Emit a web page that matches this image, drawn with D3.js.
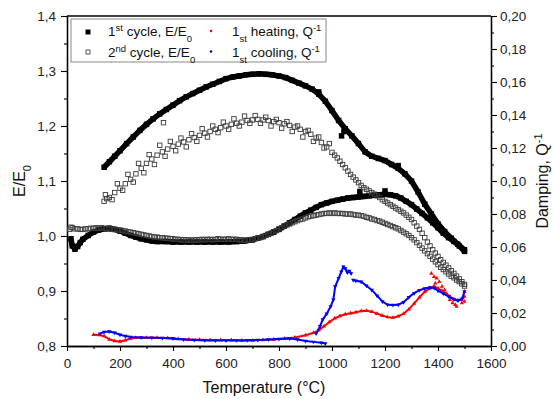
<!DOCTYPE html>
<html><head><meta charset="utf-8">
<script src="https://cdn.jsdelivr.net/npm/d3@7"></script>
<style>
body{margin:0;background:#fff;}
svg{font-family:Arial,"Liberation Sans",sans-serif;}
</style></head>
<body><svg id="c" width="553" height="399"></svg>
<script>
// ---------- data ----------
const xTicks = [0,200,400,600,800,1000,1200,1400,1600];
const yLeftTicks = [0.8,0.9,1.0,1.1,1.2,1.3,1.4];
const yRightTicks = [0,0.02,0.04,0.06,0.08,0.10,0.12,0.14,0.16,0.18,0.20];

// 1st cycle E/E0, heating branch (lower black)
const cycle1Heat = [[15,0.995],[20,0.982],[30,0.976],[40,0.981],[50,0.988],[60,0.994],[80,1.001],[100,1.007],[120,1.011],[140,1.013],[160,1.014],[180,1.012],[200,1.009],[220,1.005],[240,1.001],[260,0.998],[280,0.995],[300,0.993],[320,0.991],[340,0.990],[370,0.990],[400,0.989],[430,0.989],[460,0.989],[490,0.989],[520,0.989],[550,0.989],[580,0.989],[610,0.989],[640,0.990],[670,0.991],[700,0.993],[720,0.996],[740,0.999],[760,1.003],[780,1.007],[800,1.012],[820,1.018],[840,1.024],[860,1.030],[880,1.036],[900,1.042],[920,1.047],[940,1.052],[960,1.057],[980,1.060],[1000,1.063],[1020,1.065],[1040,1.067],[1060,1.069],[1080,1.070],[1100,1.071],[1120,1.072],[1140,1.073],[1160,1.074],[1180,1.075],[1200,1.076],[1220,1.075],[1240,1.073],[1260,1.069],[1280,1.063],[1300,1.057],[1320,1.049],[1340,1.041],[1360,1.033],[1380,1.024],[1400,1.015],[1420,1.005],[1440,0.997],[1460,0.990],[1480,0.982],[1500,0.972]];
// 1st cycle E/E0, cooling branch (upper black)
const cycle1Cool = [[1500,0.975],[1475,0.985],[1450,0.996],[1425,1.008],[1400,1.022],[1375,1.040],[1350,1.058],[1325,1.080],[1300,1.100],[1275,1.113],[1250,1.123],[1225,1.130],[1200,1.137],[1175,1.141],[1150,1.145],[1125,1.153],[1100,1.168],[1075,1.182],[1050,1.195],[1025,1.210],[1000,1.228],[975,1.245],[950,1.258],[925,1.267],[900,1.273],[875,1.278],[850,1.283],[825,1.288],[800,1.291],[775,1.293],[750,1.294],[725,1.295],[700,1.294],[675,1.293],[650,1.291],[625,1.289],[600,1.286],[575,1.281],[550,1.276],[525,1.271],[500,1.265],[475,1.259],[450,1.253],[425,1.246],[400,1.238],[375,1.230],[350,1.222],[325,1.213],[300,1.203],[275,1.192],[250,1.180],[225,1.168],[200,1.155],[180,1.145],[160,1.135],[140,1.125]];
const cycle1Outliers = [[1036,1.182],[1045,1.19],[1105,1.081],[1200,1.082],[950,1.262],[1250,1.128]];
// 2nd cycle E/E0, heating branch (lower open)
const cycle2Heat = [[10,1.012],[15,1.016],[20,1.015],[30,1.013],[40,1.013],[50,1.012],[60,1.012],[70,1.013],[80,1.013],[90,1.014],[100,1.014],[110,1.015],[120,1.014],[130,1.015],[140,1.014],[150,1.013],[160,1.013],[170,1.012],[180,1.012],[190,1.011],[200,1.011],[210,1.010],[220,1.009],[230,1.008],[240,1.007],[250,1.006],[260,1.005],[270,1.004],[280,1.003],[290,1.002],[300,1.001],[310,1.000],[320,0.999],[330,0.998],[340,0.998],[350,0.997],[360,0.997],[370,0.996],[380,0.996],[390,0.995],[400,0.995],[410,0.994],[420,0.994],[430,0.993],[440,0.993],[450,0.993],[460,0.993],[470,0.992],[480,0.993],[490,0.993],[500,0.993],[510,0.994],[520,0.993],[530,0.994],[540,0.994],[550,0.993],[560,0.994],[570,0.995],[580,0.994],[590,0.994],[600,0.994],[610,0.995],[620,0.994],[630,0.994],[640,0.994],[650,0.993],[660,0.993],[670,0.992],[680,0.993],[690,0.993],[700,0.994],[710,0.995],[720,0.996],[730,0.997],[740,0.999],[750,1.001],[760,1.003],[770,1.005],[780,1.008],[790,1.010],[800,1.013],[810,1.015],[820,1.018],[830,1.020],[840,1.022],[850,1.024],[860,1.026],[870,1.028],[880,1.030],[890,1.031],[900,1.033],[910,1.035],[920,1.036],[930,1.037],[940,1.038],[950,1.039],[960,1.040],[970,1.041],[980,1.041],[990,1.042],[1000,1.041],[1010,1.042],[1020,1.041],[1030,1.041],[1040,1.041],[1050,1.040],[1060,1.040],[1070,1.040],[1080,1.039],[1090,1.038],[1100,1.038],[1110,1.037],[1120,1.036],[1130,1.034],[1140,1.033],[1150,1.031],[1160,1.030],[1170,1.028],[1180,1.027],[1190,1.025],[1200,1.023],[1210,1.021],[1220,1.019],[1230,1.017],[1240,1.015],[1250,1.013],[1260,1.010],[1270,1.007],[1280,1.004],[1290,1.001],[1300,0.997],[1310,0.993],[1320,0.988],[1330,0.983],[1340,0.978],[1350,0.973],[1360,0.968],[1370,0.963],[1380,0.958],[1390,0.953],[1400,0.948],[1410,0.943],[1420,0.939],[1430,0.935],[1440,0.931],[1450,0.927],[1460,0.924],[1470,0.920],[1480,0.917],[1490,0.913],[1500,0.909]];
// 2nd cycle E/E0, cooling branch (upper open, noisy)
const cycle2Cool = [[1500,0.912],[1490,0.917],[1480,0.922],[1470,0.927],[1460,0.932],[1450,0.937],[1440,0.942],[1430,0.947],[1420,0.952],[1410,0.957],[1400,0.963],[1390,0.969],[1380,0.975],[1370,0.982],[1360,0.989],[1350,0.997],[1340,1.005],[1330,1.012],[1320,1.018],[1310,1.024],[1300,1.030],[1290,1.034],[1280,1.038],[1270,1.042],[1260,1.045],[1250,1.048],[1240,1.051],[1230,1.054],[1220,1.057],[1210,1.060],[1200,1.063],[1190,1.066],[1180,1.070],[1170,1.073],[1160,1.076],[1150,1.079],[1140,1.082],[1130,1.085],[1120,1.088],[1110,1.092],[1100,1.097],[1090,1.102],[1080,1.107],[1070,1.112],[1060,1.118],[1050,1.124],[1040,1.130],[1030,1.136],[1020,1.142],[1010,1.147],[1000,1.152],[980,1.162],[960,1.170],[940,1.178],[920,1.185],[900,1.190],[880,1.194],[860,1.198],[840,1.201],[820,1.204],[800,1.206],[780,1.208],[760,1.210],[740,1.211],[720,1.212],[700,1.211],[680,1.210],[660,1.207],[640,1.205],[620,1.203],[600,1.200],[580,1.197],[560,1.194],[540,1.190],[520,1.187],[500,1.183],[480,1.179],[460,1.175],[440,1.171],[420,1.167],[400,1.163],[380,1.158],[360,1.153],[340,1.147],[320,1.140],[300,1.132],[280,1.123],[260,1.113],[240,1.103],[220,1.095],[200,1.087],[180,1.079],[160,1.070],[140,1.063]];
const cycle2CoolScatter = [[145,1.075],[150,1.068],[170,1.066],[190,1.095],[210,1.083],[230,1.112],[250,1.098],[270,1.132],[290,1.115],[310,1.148],[330,1.130],[350,1.165],[364,1.206],[370,1.145],[390,1.172],[410,1.155],[430,1.178],[450,1.162],[470,1.186],[490,1.172],[510,1.195],[530,1.180],[550,1.200],[570,1.188],[590,1.207],[610,1.194],[630,1.213],[650,1.200],[670,1.218],[690,1.205],[710,1.219],[730,1.205],[750,1.216],[770,1.200],[790,1.212],[810,1.196],[830,1.208],[850,1.190],[870,1.200],[890,1.180],[910,1.192],[930,1.172],[950,1.180],[970,1.160],[990,1.168]];
// Damping Q^-1, 1st heating (red)
const heatQ = [[100,0.0068],[120,0.0066],[140,0.0060],[160,0.0040],[180,0.0030],[200,0.0027],[220,0.0035],[240,0.0045],[260,0.0050],[300,0.0050],[340,0.0050],[380,0.0048],[420,0.0042],[460,0.0040],[500,0.0038],[540,0.0036],[580,0.0036],[620,0.0036],[660,0.0034],[700,0.0034],[740,0.0036],[780,0.0040],[820,0.0046],[860,0.0052],[900,0.0065],[930,0.0080],[950,0.0095],[970,0.0120],[990,0.0145],[1010,0.0168],[1030,0.0182],[1050,0.0192],[1070,0.0198],[1090,0.0204],[1110,0.0212],[1130,0.0214],[1150,0.0208],[1170,0.0196],[1190,0.0184],[1210,0.0175],[1230,0.0172],[1250,0.0180],[1270,0.0196],[1290,0.0222],[1310,0.0258],[1330,0.0295],[1350,0.0328],[1370,0.0350],[1385,0.0362],[1400,0.0350],[1415,0.0335],[1430,0.0318],[1445,0.0300],[1460,0.0285],[1475,0.0278],[1490,0.0282],[1500,0.0300]];
const heatQScatter = [[1375,0.044],[1385,0.042],[1395,0.041],[1405,0.039],[1415,0.036],[1425,0.034],[1435,0.031],[1445,0.028],[1455,0.026],[1465,0.025],[1490,0.026],[1500,0.027],[1500,0.033],[1390,0.038],[1470,0.024]];
// Damping Q^-1, 1st cooling (blue)
const coolQLow = [[125,0.0075],[140,0.0085],[160,0.0088],[180,0.0080],[200,0.0068],[220,0.0060],[240,0.0055],[280,0.0052],[320,0.0050],[360,0.0048],[400,0.0045],[440,0.0040],[480,0.0036],[520,0.0034],[560,0.0033],[600,0.0033],[640,0.0034],[680,0.0035],[720,0.0036],[760,0.0040],[800,0.0042],[840,0.0045],[870,0.0040],[900,0.0030],[930,0.0025],[960,0.0020],[975,0.0015]];
const coolQHigh = [[940,0.0075],[955,0.0120],[965,0.0160],[980,0.0195],[995,0.0240],[1005,0.0280],[1012,0.0360],[1025,0.0410],[1035,0.0450],[1043,0.0480],[1050,0.0470],[1058,0.0445],[1065,0.0455],[1072,0.0440]];
const coolQTail = [[1080,0.0400],[1090,0.0395],[1110,0.0390],[1130,0.0365],[1150,0.0340],[1170,0.0305],[1190,0.0270],[1210,0.0250],[1230,0.0248],[1250,0.0250],[1270,0.0265],[1290,0.0295],[1310,0.0320],[1330,0.0338],[1350,0.0348],[1370,0.0355],[1385,0.0352],[1400,0.0335],[1420,0.0318],[1440,0.0300],[1460,0.0282],[1475,0.0275],[1490,0.0285],[1500,0.0330]];

// ---------- drawing ----------
const svg = d3.select("#c");
const x = d3.scaleLinear().domain([0,1600]).range([67,491]);
const yL = d3.scaleLinear().domain([0.8,1.4]).range([346,16]);
const yR = d3.scaleLinear().domain([0,0.2]).range([346,16]);
const comma = (d,n) => d.toFixed(n).replace(".", ",");

svg.append("line").attr("x1",67).attr("x2",491).attr("y1",16).attr("y2",16).attr("stroke","#000").attr("stroke-width",1.3);

svg.append("g").attr("transform","translate(0,346)")
  .call(d3.axisBottom(x).tickValues(xTicks).tickSize(5).tickSizeOuter(0).tickPadding(7).tickFormat(d=>d));
svg.append("g").attr("transform","translate(0,346)")
  .call(d3.axisBottom(x).tickValues(d3.range(100,1600,200)).tickSize(3).tickSizeOuter(0).tickFormat(""));
svg.append("g").attr("transform","translate(67,0)")
  .call(d3.axisLeft(yL).tickValues(yLeftTicks).tickSize(6).tickSizeOuter(0).tickPadding(5).tickFormat(d=>comma(d,1)));
svg.append("g").attr("transform","translate(67,0)")
  .call(d3.axisLeft(yL).tickValues([0.85,0.95,1.05,1.15,1.25,1.35]).tickSize(3).tickSizeOuter(0).tickFormat(""));
svg.append("g").attr("transform","translate(491,0)")
  .call(d3.axisRight(yR).tickValues(yRightTicks).tickSize(6).tickSizeOuter(0).tickPadding(3).tickFormat(d=>comma(d,2)));
svg.append("g").attr("transform","translate(491,0)")
  .call(d3.axisRight(yR).tickValues(d3.range(0.01,0.2,0.02)).tickSize(3).tickSizeOuter(0).tickFormat(""));
svg.selectAll(".domain").attr("stroke","#000").attr("stroke-width",1.3);
svg.selectAll(".tick line").attr("stroke","#000").attr("stroke-width",1.1);
svg.selectAll(".tick text").attr("font-size","13.5px").attr("fill","#222").attr("font-family","Arial, 'Liberation Sans', sans-serif");

// axis titles
svg.append("text").attr("x",264).attr("y",393).attr("text-anchor","middle")
  .attr("font-size","16px").attr("fill","#111").text("Temperature (°C)");
const tl = svg.append("text").attr("transform","translate(25,181) rotate(-90)").attr("text-anchor","middle")
  .attr("font-size","16px").attr("fill","#111");
tl.append("tspan").text("E/E");
tl.append("tspan").attr("baseline-shift","sub").attr("font-size","11px").text("0");
const tr = svg.append("text").attr("transform","translate(548,181) rotate(-90)").attr("text-anchor","middle")
  .attr("font-size","16px").attr("fill","#111");
tr.append("tspan").text("Damping, Q");
tr.append("tspan").attr("baseline-shift","super").attr("font-size","11px").text("-1");

// series
const lineL = d3.line().x(d=>x(d[0])).y(d=>yL(d[1]));
const lineR = d3.line().x(d=>x(d[0])).y(d=>yR(d[1]));
const plot = svg.append("g");

[cycle1Heat, cycle1Cool].forEach(s=>{
  plot.append("path").attr("d",lineL(s)).attr("fill","none").attr("stroke","#000").attr("stroke-width",5.5).attr("stroke-linejoin","round");
});
plot.selectAll(null).data(cycle1Heat.concat(cycle1Cool, cycle1Outliers)).enter().append("rect")
  .attr("x",d=>x(d[0])-2.75).attr("y",d=>yL(d[1])-2.75).attr("width",5.5).attr("height",5.5).attr("fill","#000");

plot.selectAll(null).data(cycle2Heat.concat(cycle2Cool, cycle2CoolScatter)).enter().append("rect")
  .attr("x",d=>x(d[0])-2.2).attr("y",d=>yL(d[1])-2.2).attr("width",4.4).attr("height",4.4)
  .attr("fill","none").attr("stroke","#3a3a3a").attr("stroke-width",0.9);

const tri = d3.symbol().type(d3.symbolTriangle).size(8);
plot.append("path").attr("d",lineR(heatQ)).attr("fill","none").attr("stroke","#f00").attr("stroke-width",2);
plot.selectAll(null).data(heatQ.concat(heatQScatter)).enter().append("path").attr("d",tri)
  .attr("transform",d=>`translate(${x(d[0])},${yR(d[1])})`).attr("fill","#f00");

[coolQLow, coolQHigh, coolQTail].forEach(s=>{
  plot.append("path").attr("d",lineR(s)).attr("fill","none").attr("stroke","#00f").attr("stroke-width",2);
});
plot.selectAll(null).data(coolQLow.concat(coolQHigh, coolQTail)).enter().append("path").attr("d",tri)
  .attr("transform",d=>`translate(${x(d[0])},${yR(d[1])}) rotate(180)`).attr("fill","#00f");

// legend
const lg = svg.append("g");
lg.append("rect").attr("x",71).attr("y",19).attr("width",255).attr("height",43).attr("fill","#fff").attr("stroke","#888").attr("stroke-width",1);
lg.append("rect").attr("x",85.5).attr("y",29.5).attr("width",5).attr("height",5).attr("fill","#000");
lg.append("rect").attr("x",86).attr("y",50).attr("width",4).attr("height",4).attr("fill","none").attr("stroke","#444").attr("stroke-width",0.9);
lg.append("circle").attr("cx",211).attr("cy",31).attr("r",1.3).attr("fill","#f00");
lg.append("circle").attr("cx",211).attr("cy",51.5).attr("r",1.3).attr("fill","#00f");
function legText(xp, yp, num, ord, ordMode, mid, tail, tailMode){
  const t = lg.append("text").attr("x",xp).attr("y",yp).attr("font-size","13.5px").attr("fill","#111");
  t.append("tspan").text(num);
  t.append("tspan").attr("baseline-shift",ordMode).attr("font-size","9.5px").text(ord);
  t.append("tspan").text(mid);
  t.append("tspan").attr("baseline-shift",tailMode).attr("font-size","9.5px").text(tail);
}
legText(108,36,"1","st","super"," cycle, E/E","0","sub");
legText(108,57,"2","nd","super"," cycle, E/E","0","sub");
legText(232,36,"1","st","sub"," heating, Q","-1","super");
legText(232,57,"1","st","sub"," cooling, Q","-1","super");
</script></body></html>
